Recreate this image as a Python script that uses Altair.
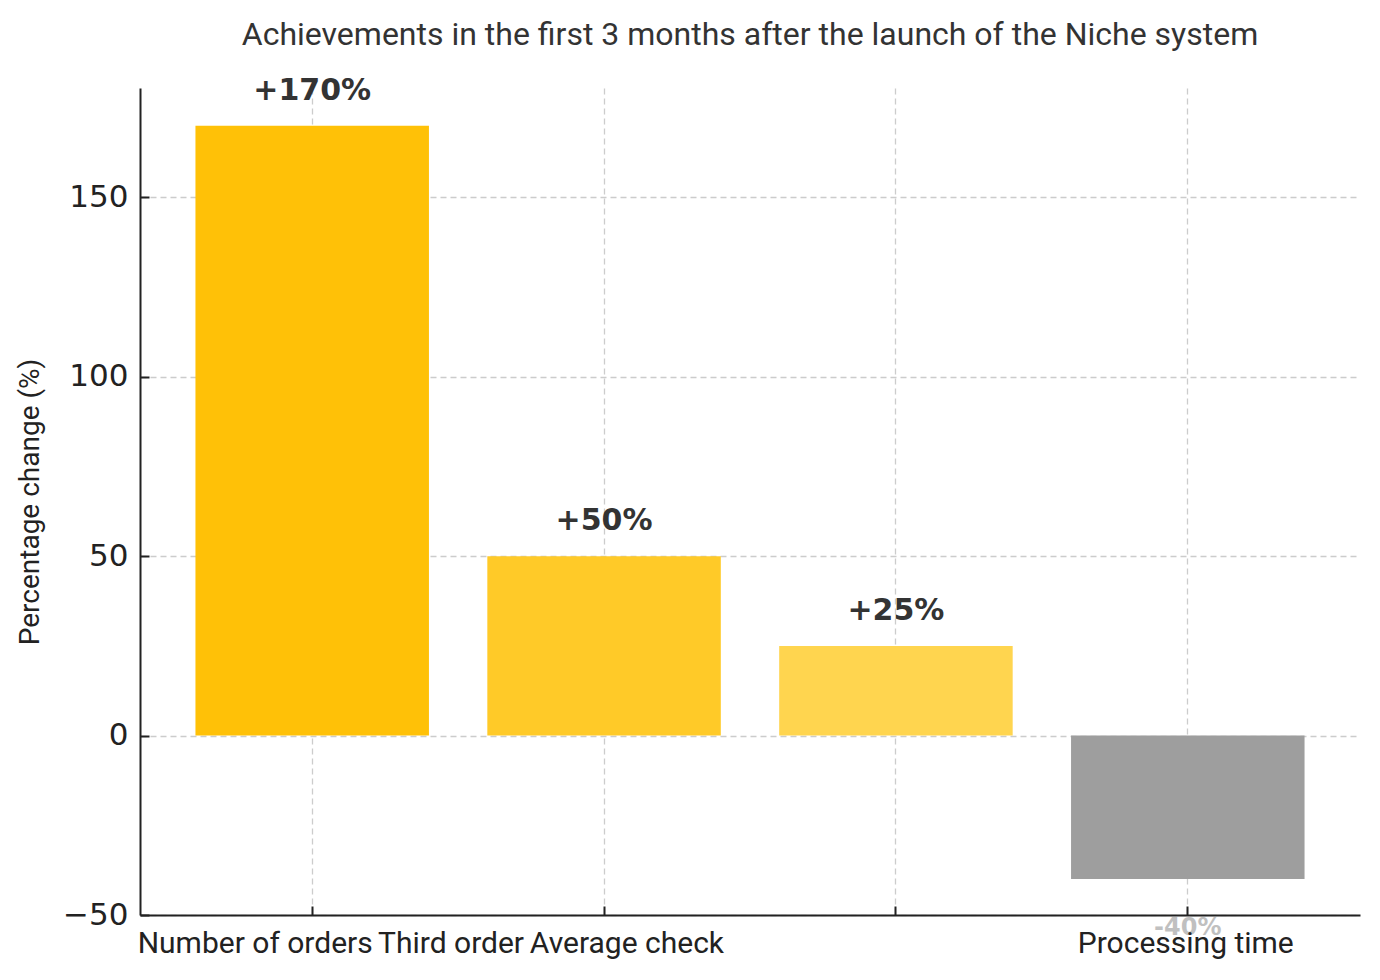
import altair as alt
import pandas as pd

categories = ["Number of orders", "Third order", "Average check", "Processing time"]
values = [170, 50, 25, -40]
value_labels = ["+170%", "+50%", "+25%", "-40%"]
bar_colors = ["#FFC107", "#FFCA28", "#FFD54F", "#9E9E9E"]
label_shift = [-57, -153, -269, -2]

df = pd.DataFrame({"category": categories, "value": values, "label": value_labels})

xscale = alt.Scale(domain=categories, paddingInner=0.2, paddingOuter=0.19)
yscale = alt.Scale(domain=[-50, 180.5], nice=False, zero=False)

offset_cond = {
    "condition": [
        {"test": f"datum.value == '{c}'", "value": s}
        for c, s in zip(categories, label_shift)
    ],
    "value": 0,
}

x_main = alt.Axis(
    title=None, labelAngle=0, labelFont="Roboto", labelFontSize=30, labelColor="#222",
    labelPadding=13, tickSize=0, domainColor="#222", domainWidth=2,
    grid=True, gridDash=[6, 4], gridColor="#cccccc", gridWidth=1.3,
    labelOffset=offset_cond, labelOverlap=False, labelLimit=0,
)
y_main = alt.Axis(
    title="Percentage change (%)", titleFont="Roboto", titleFontSize=28, titleFontWeight="normal",
    titleColor="#222", titlePadding=18,
    values=[-50, 0, 50, 100, 150], labelFont="DejaVu Sans", labelFontSize=31, labelColor="#222",
    labelPadding=12, tickSize=0, domainColor="#222", domainWidth=2,
    grid=True, gridDash=[6, 4], gridColor="#cccccc", gridWidth=1.3,
)

bars = alt.Chart(df).mark_bar().encode(
    x=alt.X("category:N", scale=xscale, axis=x_main, sort=categories),
    y=alt.Y("value:Q", scale=yscale, axis=y_main),
    color=alt.Color("category:N", scale=alt.Scale(domain=categories, range=bar_colors), legend=None),
)

pos_text = alt.Chart(df).transform_filter("datum.value >= 0").mark_text(
    font="DejaVu Sans", fontWeight="bold", fontSize=30, color="#333", baseline="bottom", dy=-20
).encode(
    x=alt.X("category:N", scale=xscale, sort=categories,
            axis=alt.Axis(orient="top", offset=-827, labels=False, domain=False, grid=False,
                          tickSize=9, tickWidth=2, tickColor="#222", title=None)),
    y=alt.Y("value:Q", scale=yscale,
            axis=alt.Axis(orient="right", offset=-1220, labels=False, domain=False, grid=False,
                          tickSize=9, tickWidth=2, tickColor="#222", title=None,
                          values=[-50, 0, 50, 100, 150])),
    text="label:N",
)

neg_text = alt.Chart(df).transform_filter("datum.value < 0").mark_text(
    font="DejaVu Sans", fontWeight="bold", fontSize=24, color="#333", opacity=0.3,
    baseline="top", dy=37
).encode(
    x=alt.X("category:N", scale=xscale, sort=categories, axis=None),
    y=alt.Y("value:Q", scale=yscale, axis=None),
    text="label:N",
)

chart = alt.layer(bars, pos_text, neg_text).resolve_axis(x="independent", y="independent").properties(
    width=1220, height=827,
    title=alt.TitleParams(
        "Achievements in the first 3 months after the launch of the Niche system",
        font="Roboto", fontSize=32, fontWeight="normal", color="#333", anchor="middle", offset=24,
    ),
    autosize=alt.AutoSizeParams(type="none"),
    padding={"left": 132, "top": 80, "right": 12, "bottom": 57},
).configure_view(stroke=None)

chart.save("out.html", embed_options={"renderer": "svg", "actions": False})
